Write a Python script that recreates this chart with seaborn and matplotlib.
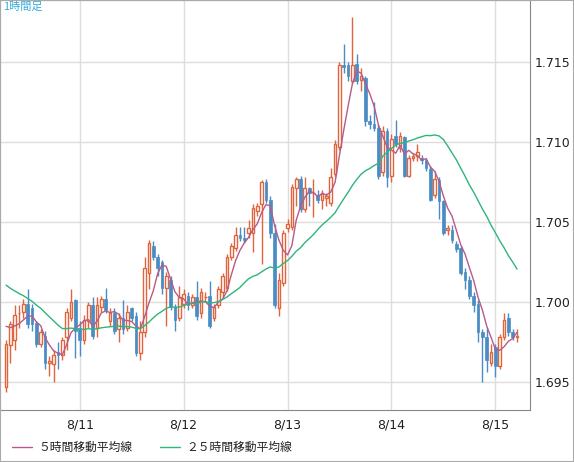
import numpy as np
import pandas as pd
import matplotlib
matplotlib.use("Agg")
import matplotlib.pyplot as plt
import seaborn as sns

opens = [1.6947,1.6973,1.6976,1.6993,1.6994,1.6999,1.6996,1.6987,1.6974,1.6979,1.6962,1.6961,1.6969,1.6967,1.6978,1.6990,1.7001,1.6984,1.6976,1.6988,
1.6998,1.6984,1.6997,1.7002,1.6988,1.6993,1.6983,1.6990,1.6984,1.6996,1.6991,1.6968,1.6981,1.7018,1.7035,1.7028,1.7025,1.7009,1.7014,1.6997,
1.6990,1.6999,1.7004,1.6998,1.7003,1.6993,1.7003,1.7004,1.6990,1.6998,1.7006,1.7009,1.7028,1.7034,1.7042,1.7040,1.7043,1.7043,1.7057,1.7061,
1.7075,1.7064,1.7043,1.6996,1.7012,1.7046,1.7047,1.7071,1.7077,1.7058,1.7071,1.7068,1.7067,1.7064,1.7065,1.7062,1.7080,1.7097,1.7148,1.7148,
1.7138,1.7149,1.7139,1.7140,1.7113,1.7111,1.7109,1.7081,1.7107,1.7079,1.7104,1.7096,1.7103,1.7079,1.7090,1.7091,1.7090,1.7089,1.7083,1.7067,
1.7076,1.7063,1.7045,1.7045,1.7036,1.7034,1.7019,1.7014,1.7004,1.6999,1.6981,1.6978,1.6962,1.6972,1.6960,1.6978,1.6990,1.6981,1.6978]
closes = [1.6974,1.6986,1.6992,1.6993,1.6999,1.6986,1.6986,1.6974,1.6981,1.6962,1.6963,1.6967,1.6967,1.6976,1.6994,1.7000,1.6982,1.6976,1.6989,1.6998,
1.6979,1.6998,1.7002,1.6995,1.6993,1.6982,1.6990,1.6983,1.6994,1.6990,1.6968,1.6981,1.7021,1.7037,1.7028,1.7021,1.7009,1.7016,1.6997,1.6989,
1.7003,1.7005,1.6998,1.7003,1.6991,1.7006,1.7003,1.6985,1.6997,1.7008,1.7016,1.7028,1.7035,1.7042,1.7040,1.7039,1.7046,1.7059,1.7060,1.7075,
1.7064,1.7043,1.6998,1.7014,1.7043,1.7049,1.7072,1.7077,1.7058,1.7071,1.7068,1.7068,1.7064,1.7068,1.7066,1.7078,1.7099,1.7148,1.7147,1.7141,
1.7148,1.7138,1.7141,1.7113,1.7111,1.7109,1.7079,1.7107,1.7078,1.7102,1.7099,1.7104,1.7079,1.7090,1.7091,1.7094,1.7089,1.7084,1.7064,1.7077,
1.7063,1.7043,1.7046,1.7039,1.7033,1.7018,1.7014,1.7004,1.6998,1.6981,1.6978,1.6964,1.6969,1.6960,1.6978,1.6989,1.6981,1.6978,1.6979]
highs = [1.6976,1.6988,1.6998,1.6998,1.7002,1.7008,1.6999,1.6988,1.6983,1.6982,1.6966,1.6970,1.6975,1.6978,1.6996,1.7008,1.7002,1.6988,1.6992,1.7000,
1.7003,1.7003,1.7004,1.7009,1.6996,1.6996,1.6993,1.7001,1.6998,1.6997,1.6994,1.6988,1.7028,1.7039,1.7038,1.7030,1.7026,1.7019,1.7016,1.6999,
1.7010,1.7008,1.7006,1.7005,1.7013,1.7009,1.7006,1.7013,1.6999,1.7010,1.7018,1.7030,1.7037,1.7047,1.7047,1.7047,1.7051,1.7061,1.7062,1.7076,
1.7077,1.7066,1.7049,1.7018,1.7045,1.7052,1.7074,1.7078,1.7079,1.7078,1.7072,1.7077,1.7070,1.7070,1.7068,1.7084,1.7101,1.7150,1.7161,1.7150,
1.7178,1.7155,1.7146,1.7141,1.7117,1.7125,1.7111,1.7110,1.7109,1.7105,1.7114,1.7106,1.7104,1.7092,1.7093,1.7099,1.7092,1.7090,1.7085,1.7082,
1.7078,1.7064,1.7048,1.7048,1.7038,1.7035,1.7021,1.7016,1.7006,1.7001,1.6983,1.6984,1.6974,1.6974,1.6980,1.6993,1.6993,1.6983,1.6983]
lows = [1.6944,1.6962,1.6970,1.6984,1.6990,1.6984,1.6982,1.6972,1.6972,1.6958,1.6954,1.6950,1.6958,1.6964,1.6970,1.6988,1.6965,1.6966,1.6974,1.6984,
1.6977,1.6978,1.6994,1.6993,1.6985,1.6980,1.6975,1.6980,1.6982,1.6988,1.6966,1.6964,1.6978,1.7008,1.7026,1.7016,1.7005,1.6985,1.6995,1.6982,
1.6988,1.6996,1.6995,1.6996,1.6989,1.6990,1.7000,1.6984,1.6988,1.6996,1.7003,1.7007,1.7026,1.7032,1.7038,1.7037,1.7040,1.7031,1.7054,1.7024,
1.7062,1.7040,1.6996,1.6991,1.7010,1.7044,1.7045,1.7060,1.7056,1.7056,1.7060,1.7053,1.7062,1.7058,1.7060,1.7060,1.7078,1.7095,1.7143,1.7138,
1.7136,1.7136,1.7132,1.7110,1.7108,1.7107,1.7077,1.7079,1.7072,1.7075,1.7097,1.7094,1.7078,1.7078,1.7088,1.7088,1.7086,1.7082,1.7063,1.7065,
1.7052,1.7042,1.7042,1.7037,1.7031,1.7017,1.7008,1.7002,1.6994,1.6975,1.6950,1.6956,1.6960,1.6953,1.6958,1.6976,1.6979,1.6976,1.6975]
# closes before the visible window (estimated from the 25-hour average's starting level)
prior_closes = [1.7035,1.7034,1.7032,1.7033,1.7031,1.7030,1.7032,1.7031,1.7030,1.7029,1.7031,1.7032,1.7030,
1.6995,1.6992,1.6990,1.6988,1.6989,1.6987,1.6988,1.6990,1.6987,1.6986,1.6987]
tick_labels = ["8/11", "8/12", "8/13", "8/14", "8/15"]
tick_index = [17, 41, 65, 89, 113]

n = len(closes)
idx = np.arange(n)
allc = pd.Series(prior_closes + closes)
ma5 = allc.rolling(5).mean().values[-n:]
ma25 = allc.rolling(25).mean().values[-n:]
df = pd.DataFrame({"i": idx, "ma5": ma5, "ma25": ma25})

fig = plt.figure(figsize=(5.74, 4.62), dpi=100)
fig.patch.set_facecolor("white")
ax = fig.add_axes([0, 1 - 410/462, 530/574, 410/462])
sns.set_style("white")
plt.rcParams['font.family'] = ['Noto Sans CJK JP', 'DejaVu Sans']

up_c = "#e0643c"
dn_c = "#4a8cc4"
o = np.array(opens); c = np.array(closes); h = np.array(highs); l = np.array(lows)
up = c >= o
ax.vlines(idx[up], l[up], h[up], color=up_c, lw=1, zorder=2)
ax.vlines(idx[~up], l[~up], h[~up], color=dn_c, lw=1, zorder=2)
bot = np.minimum(o, c); ht = np.maximum(np.abs(c - o), 0.00003)
ax.bar(idx[up], ht[up], bottom=bot[up], width=0.62, facecolor="white", edgecolor=up_c, lw=1, zorder=3)
ax.bar(idx[~up], ht[~up], bottom=bot[~up], width=0.62, color=dn_c, edgecolor=dn_c, lw=0.5, zorder=3)

sns.lineplot(data=df, x="i", y="ma5", ax=ax, color="#b85a8a", lw=1, zorder=4)
sns.lineplot(data=df, x="i", y="ma25", ax=ax, color="#2eb57a", lw=1, zorder=4)

ax.set_xlim(-1.4, 121.0)
ax.set_ylim(1.69325, 1.718875)
ax.set_xticks(tick_index)
ax.set_xticklabels(tick_labels)
yt = [1.695, 1.700, 1.705, 1.710, 1.715]
ax.set_yticks(yt)
ax.set_yticklabels([f"{v:.3f}" for v in yt])
ax.yaxis.tick_right()
ax.tick_params(axis="both", length=0, labelsize=9, colors="#222222")
ax.tick_params(axis="x", pad=6)
ax.grid(True, color="#dddddd", lw=1)
ax.set_axisbelow(True)
ax.set_xlabel(""); ax.set_ylabel("")
for s in ax.spines.values():
    s.set_color("#888888")
ax.text(0.005, 0.995, "1時間足", transform=ax.transAxes, ha="left", va="top", fontsize=8, color="#33aadd")

fig.add_artist(plt.Line2D([12/574, 32/574], [1 - 447/462]*2, color="#b85a8a", lw=1))
fig.text(38/574, 1 - 447/462, "５時間移動平均線", fontsize=8.5, va="center", color="#222222")
fig.add_artist(plt.Line2D([160/574, 180/574], [1 - 447/462]*2, color="#2eb57a", lw=1))
fig.text(186/574, 1 - 447/462, "２５時間移動平均線", fontsize=8.5, va="center", color="#222222")
fig.add_artist(plt.Rectangle((0, 0), 1, 1, transform=fig.transFigure, fill=False, edgecolor="#aaaaaa", lw=1.5))

fig.savefig("out.png", dpi=100)
